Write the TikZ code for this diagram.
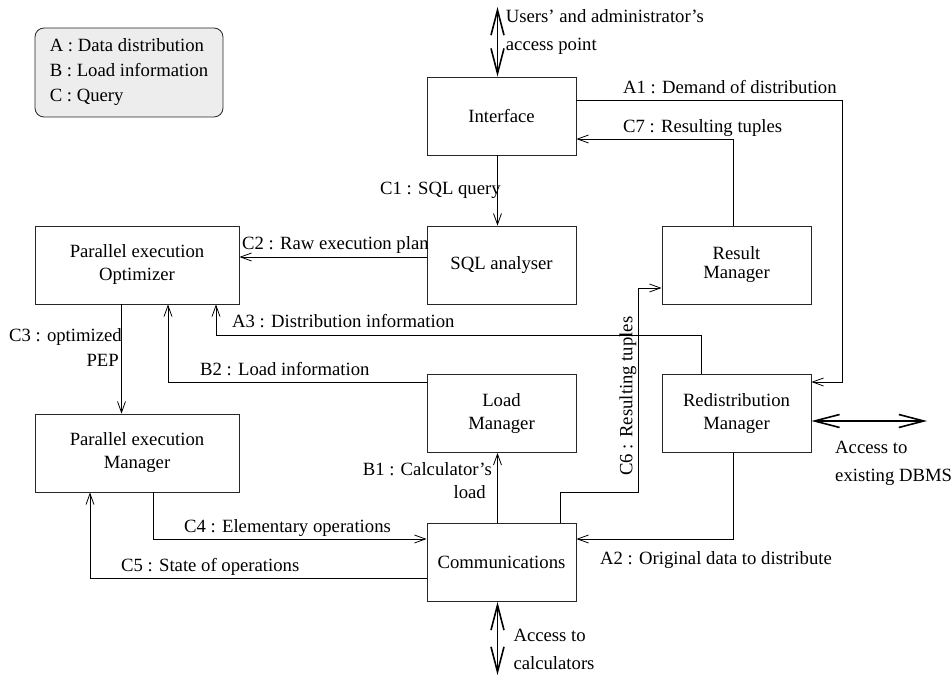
\documentclass[tikz,border=0pt]{standalone}
\usepackage{fontspec}
\setmainfont{Liberation Serif}
\usetikzlibrary{arrows.meta}
\begin{document}
\begin{tikzpicture}[x=1pt,y=-1pt,
  lbl/.style={font=\fontsize{18.7}{23}\selectfont, inner sep=0pt},
  box/.style={draw=black!85, line width=0.8pt, inner sep=0pt, minimum height=78pt,
    align=center, font=\fontsize{18.7}{23}\selectfont},
  sbox/.style={box, minimum width=149pt},
  wbox/.style={box, minimum width=204pt},
  conn/.style={draw=black, line width=0.8pt, -{Straight Barb[length=11pt,width=8pt]}},
  access/.style={draw=black, line width=1.6pt,
    {Straight Barb[length=25pt,width=13pt]}-{Straight Barb[length=25pt,width=13pt]}},
  legendbox/.style={draw=black!85, line width=0.8pt, fill=black!7, rounded corners=9pt,
    minimum width=188pt, minimum height=89pt, inner sep=0pt, align=left,
    font=\fontsize{18.7}{25}\selectfont}]
\useasboundingbox (0,0) rectangle (951,676);

% legend
\node[legendbox] (legend) at (129,72.5) {A : Data distribution\\B : Load information\\C : Query};

% boxes
\node[sbox] (iface) at (501.5,116) {Interface};
\node[sbox] (sql) at (501.5,265) {SQL analyser};
\node[wbox] (opt) at (137,265) {Parallel execution\\Optimizer};
\node[sbox, font=\fontsize{18.7}{19}\selectfont] (res) at (736.5,265) {Result\\Manager};
\node[sbox] (load) at (501.5,413.5) {Load\\Manager};
\node[sbox] (redis) at (736.5,413.5) {Redistribution\\Manager};
\node[wbox] (pem) at (137,453) {Parallel execution\\Manager};
\node[sbox] (comm) at (501.5,562.5) {Communications};

% external access points
\coordinate (uap) at (497.5,7);
\coordinate (dbms) at (927,421);
\coordinate (calc) at (497.5,675);

\draw[access] (uap) -- (uap |- iface.north);
\node[lbl, anchor=base west] (uap1) at (505.7,22.7) {Users’ and administrator’s};
\node[lbl, anchor=base west] (uap2) at (505.7,50.7) {access point};

\draw[access] (redis.east |- dbms) -- (dbms);
\node[lbl, anchor=base west] (db1) at (835,453.3) {Access to};
\node[lbl, anchor=base west] (db2) at (835,481.7) {existing DBMS};

\draw[access] (comm.south -| calc) -- (calc);
\node[lbl, anchor=base west] (ca1) at (513.3,641) {Access to};
\node[lbl, anchor=base west] (ca2) at (513.3,669.3) {calculators};

% C1
\draw[conn] (iface.south -| 497.5,0) -- (sql.north -| 497.5,0);
\node[lbl, anchor=base west] (c1) at (380,195) {C1 : SQL query};

% C2
\draw[conn] (sql.west |- 0,257) -- (opt.east |- 0,257);
\node[lbl, anchor=base west] (c2) at (242,250) {C2 : Raw execution plan};

% A1
\draw[conn] (iface.east |- 0,100) -- (842,100) -- (842,382) -- (redis.east |- 0,382);
\node[lbl, anchor=base west] (a1) at (623,93.3) {A1 : Demand of distribution};

% C7
\draw[conn] (res.north -| 733,0) -- (733,139) -- (iface.east |- 0,139);
\node[lbl, anchor=base west] (c7) at (623,132.7) {C7 : Resulting tuples};

% A3
\draw[conn] (redis.north -| 701,0) -- (701,335) -- (216,335) -- (opt.south -| 216,0);
\node[lbl, anchor=base west] (a3) at (232,328) {A3 : Distribution information};

% C3
\draw[conn] (opt.south -| 121.5,0) -- (pem.north -| 121.5,0);
\node[lbl, anchor=base east] (c3a) at (122,342) {C3 : optimized};
\node[lbl, anchor=base east] (c3b) at (119,367) {PEP};

% B2
\draw[conn] (load.west |- 0,382) -- (168,382) -- (opt.south -| 168,0);
\node[lbl, anchor=base west] (b2) at (200,375.7) {B2 : Load information};

% B1
\draw[conn] (comm.north -| 497.5,0) -- (load.south -| 497.5,0);
\node[lbl, anchor=base east] (b1a) at (492,475.7) {B1 : Calculator’s};
\node[lbl, anchor=base east] (b1b) at (486,498) {load};

% C6
\draw[conn] (comm.north -| 560,0) -- (560,492) -- (638,492) -- (638,288) -- (res.west |- 0,288);
\node[lbl, anchor=base west, rotate=90] (c6) at (632.3,475.7) {C6 : Resulting tuples};

% A2
\draw[conn] (redis.south -| 733,0) -- (733,539) -- (comm.east |- 0,539);
\node[lbl, anchor=base west] (a2) at (600,564.3) {A2 : Original data to distribute};

% C4
\draw[conn] (pem.south -| 153,0) -- (153,539) -- (comm.west |- 0,539);
\node[lbl, anchor=base west] (c4) at (184,532.7) {C4 : Elementary operations};

% C5
\draw[conn] (comm.west |- 0,578) -- (90,578) -- (pem.south -| 90,0);
\node[lbl, anchor=base west] (c5) at (121,571) {C5 : State of operations};
\end{tikzpicture}
\end{document}
